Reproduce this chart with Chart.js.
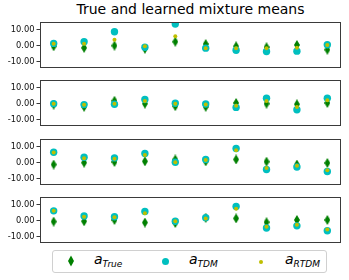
<!DOCTYPE html>
<html>
<head>
<meta charset="utf-8">
<script src="https://cdn.jsdelivr.net/npm/chart.js@4.4.1/dist/chart.umd.min.js"></script>
<style>
  html, body { margin: 0; padding: 0; background: #fff; }
  body { width: 349px; height: 280px; position: relative; overflow: hidden; font-family: "DejaVu Sans", sans-serif; }
  .panel { position: absolute; left: 0; width: 349px; }
  #title { position: absolute; left: 40px; width: 301px; top: 1px; text-align: center; font-size: 14px; color: #000; white-space: nowrap; }
  #legend { position: absolute; left: 52px; top: 250px; width: 275px; height: 23px; border: 1px solid #d0d0d0; border-radius: 3px; background: #fff; box-sizing: border-box; }
  .lab { position: absolute; top: 0px; font-style: italic; font-size: 14px; color: #000; white-space: nowrap; }
  .lab sub { font-size: 9px; vertical-align: -3px; }
  .mk { position: absolute; }
</style>
</head>
<body>
<div id="title">True and learned mixture means</div>

<div id="legend">
  <canvas class="mk" id="mkTrue" width="8" height="12" style="left:14px;top:4px"></canvas>
  <div class="lab" style="left:41px">a<sub>True</sub></div>
  <div class="mk" style="left:109px;top:7px;width:7px;height:7px;border-radius:50%;background:#00bfbf"></div>
  <div class="lab" style="left:136px">a<sub>TDM</sub></div>
  <div class="mk" style="left:206px;top:9px;width:4px;height:4px;border-radius:50%;background:#bfbf00"></div>
  <div class="lab" style="left:232px">a<sub>RTDM</sub></div>
</div>

<script>
// ---- data ----
const componentIndex = [0, 1, 2, 3, 4, 5, 6, 7, 8, 9];
const yTickValues = [-10, 0, 10];

const trueP1 = [-0.4, -1.4, 0.0, -2.0, 2.5, 1.0, -0.4, -1.0, 0.4, -2.6];
const trueP2 = [-0.6, -2.0, 1.8, 0.0, -1.6, -2.0, 0.4, 0.0, -0.4, 0.4];
const trueP3 = [-1.2, 0.0, 0.4, 0.8, 2.0, 0.8, 2.0, 0.6, -1.2, -0.2];
const trueP4 = [-0.6, -0.4, 0.4, -1.2, -1.5, 1.8, 1.4, -1.0, 0.4, 0.4];

const tdmP1 = [1.4, 2.5, 8.8, -1.0, 13.7, -1.6, -2.9, -3.7, -3.5, 0.6];
const tdmP2 = [0.0, -0.6, -0.4, 2.6, 0.2, -0.2, -2.4, 3.4, -3.9, 3.4];
const tdmP3 = [6.6, 3.4, 3.0, 5.8, 0.2, 2.0, 9.0, -4.4, -2.8, -5.6];
const tdmP4 = [6.2, 2.9, 2.5, 5.8, -0.4, 1.9, 9.0, -4.7, -3.3, -6.4];

const rtdmP1 = [1.2, 1.2, 3.7, -0.4, 5.9, -1.6, -1.6, -1.6, -1.4, 0.4];
const rtdmP2 = [0.0, -0.7, 0.0, 1.6, -0.1, -0.6, -1.4, 1.6, -2.2, 2.2];
const rtdmP3 = [6.4, 2.8, 2.4, 4.8, 0.2, 1.6, 7.8, -3.4, -2.0, -4.8];
const rtdmP4 = [6.2, 2.5, 2.1, 4.7, -0.4, 1.4, 7.6, -3.9, -2.6, -5.6];

const panels = [
  { trueV: trueP1, tdm: tdmP1, rtdm: rtdmP1 },
  { trueV: trueP2, tdm: tdmP2, rtdm: rtdmP2 },
  { trueV: trueP3, tdm: tdmP3, rtdm: rtdmP3 },
  { trueV: trueP4, tdm: tdmP4, rtdm: rtdmP4 }
];

// ---- styling / layout ----
const panelTops = [20.5, 79, 137.5, 196];
const panelH = 48;
const PAD = 6;
const GREEN = '#008000', CYAN = '#00bfbf', YELLOW = '#bfbf00';

function thinDiamond(w, h) {
  const c = document.createElement('canvas');
  c.width = w; c.height = h;
  const g = c.getContext('2d');
  g.fillStyle = GREEN;
  g.beginPath();
  g.moveTo(w / 2, 0); g.lineTo(w, h / 2); g.lineTo(w / 2, h); g.lineTo(0, h / 2);
  g.closePath(); g.fill();
  return c;
}
const diamondImg = thinDiamond(6, 10);
(function () {
  const g = document.getElementById('mkTrue').getContext('2d');
  g.fillStyle = GREEN;
  g.beginPath();
  g.moveTo(4, 0.5); g.lineTo(7, 6); g.lineTo(4, 11.5); g.lineTo(1, 6);
  g.closePath(); g.fill();
})();

const framePlugin = {
  id: 'frame',
  afterDraw(chart) {
    const a = chart.chartArea, ctx = chart.ctx;
    ctx.save();
    ctx.strokeStyle = '#3a3a3a';
    ctx.lineWidth = 1;
    ctx.strokeRect(Math.round(a.left) + 0.5, Math.round(a.top) + 0.5,
                   Math.round(a.right - a.left) - 1, Math.round(a.bottom - a.top) - 1);
    ctx.restore();
  }
};

panels.forEach((p, i) => {
  const div = document.createElement('div');
  div.className = 'panel';
  div.style.top = (panelTops[i] - PAD) + 'px';
  div.style.height = (panelH + 2 * PAD) + 'px';
  const cv = document.createElement('canvas');
  div.appendChild(cv);
  document.body.appendChild(div);

  const toXY = arr => componentIndex.map((x, k) => ({ x: x, y: arr[k] }));

  new Chart(cv, {
    type: 'scatter',
    data: {
      datasets: [
        { label: 'RTDM', data: toXY(p.rtdm), order: 0, pointStyle: 'circle', pointRadius: 2, backgroundColor: YELLOW, borderWidth: 0 },
        { label: 'TDM', data: toXY(p.tdm), order: 1, pointStyle: 'circle', pointRadius: 3.7, backgroundColor: CYAN, borderWidth: 0 },
        { label: 'True', data: toXY(p.trueV), order: 2, pointStyle: diamondImg, backgroundColor: GREEN, borderWidth: 0 }
      ]
    },
    options: {
      responsive: true,
      maintainAspectRatio: false,
      animation: false,
      events: [],
      layout: { padding: { top: PAD, bottom: PAD, left: 0, right: 8 } },
      plugins: { legend: { display: false }, tooltip: { enabled: false }, title: { display: false } },
      scales: {
        x: { type: 'linear', min: -0.45, max: 9.45, display: false },
        y: {
          type: 'linear', min: -14.2, max: 15.0,
          afterBuildTicks: s => { s.ticks = yTickValues.map(v => ({ value: v })); },
          afterFit: s => { s.width = 40; },
          grid: { display: true, drawOnChartArea: false, drawTicks: true, tickLength: 3.5, color: '#3a3a3a', lineWidth: 1 },
          border: { display: false },
          ticks: {
            padding: 2,
            color: '#111',
            font: { family: 'DejaVu Sans', size: 8.3 },
            callback: v => v.toFixed(2)
          }
        }
      }
    },
    plugins: [framePlugin]
  });
});
</script>
</body>
</html>
